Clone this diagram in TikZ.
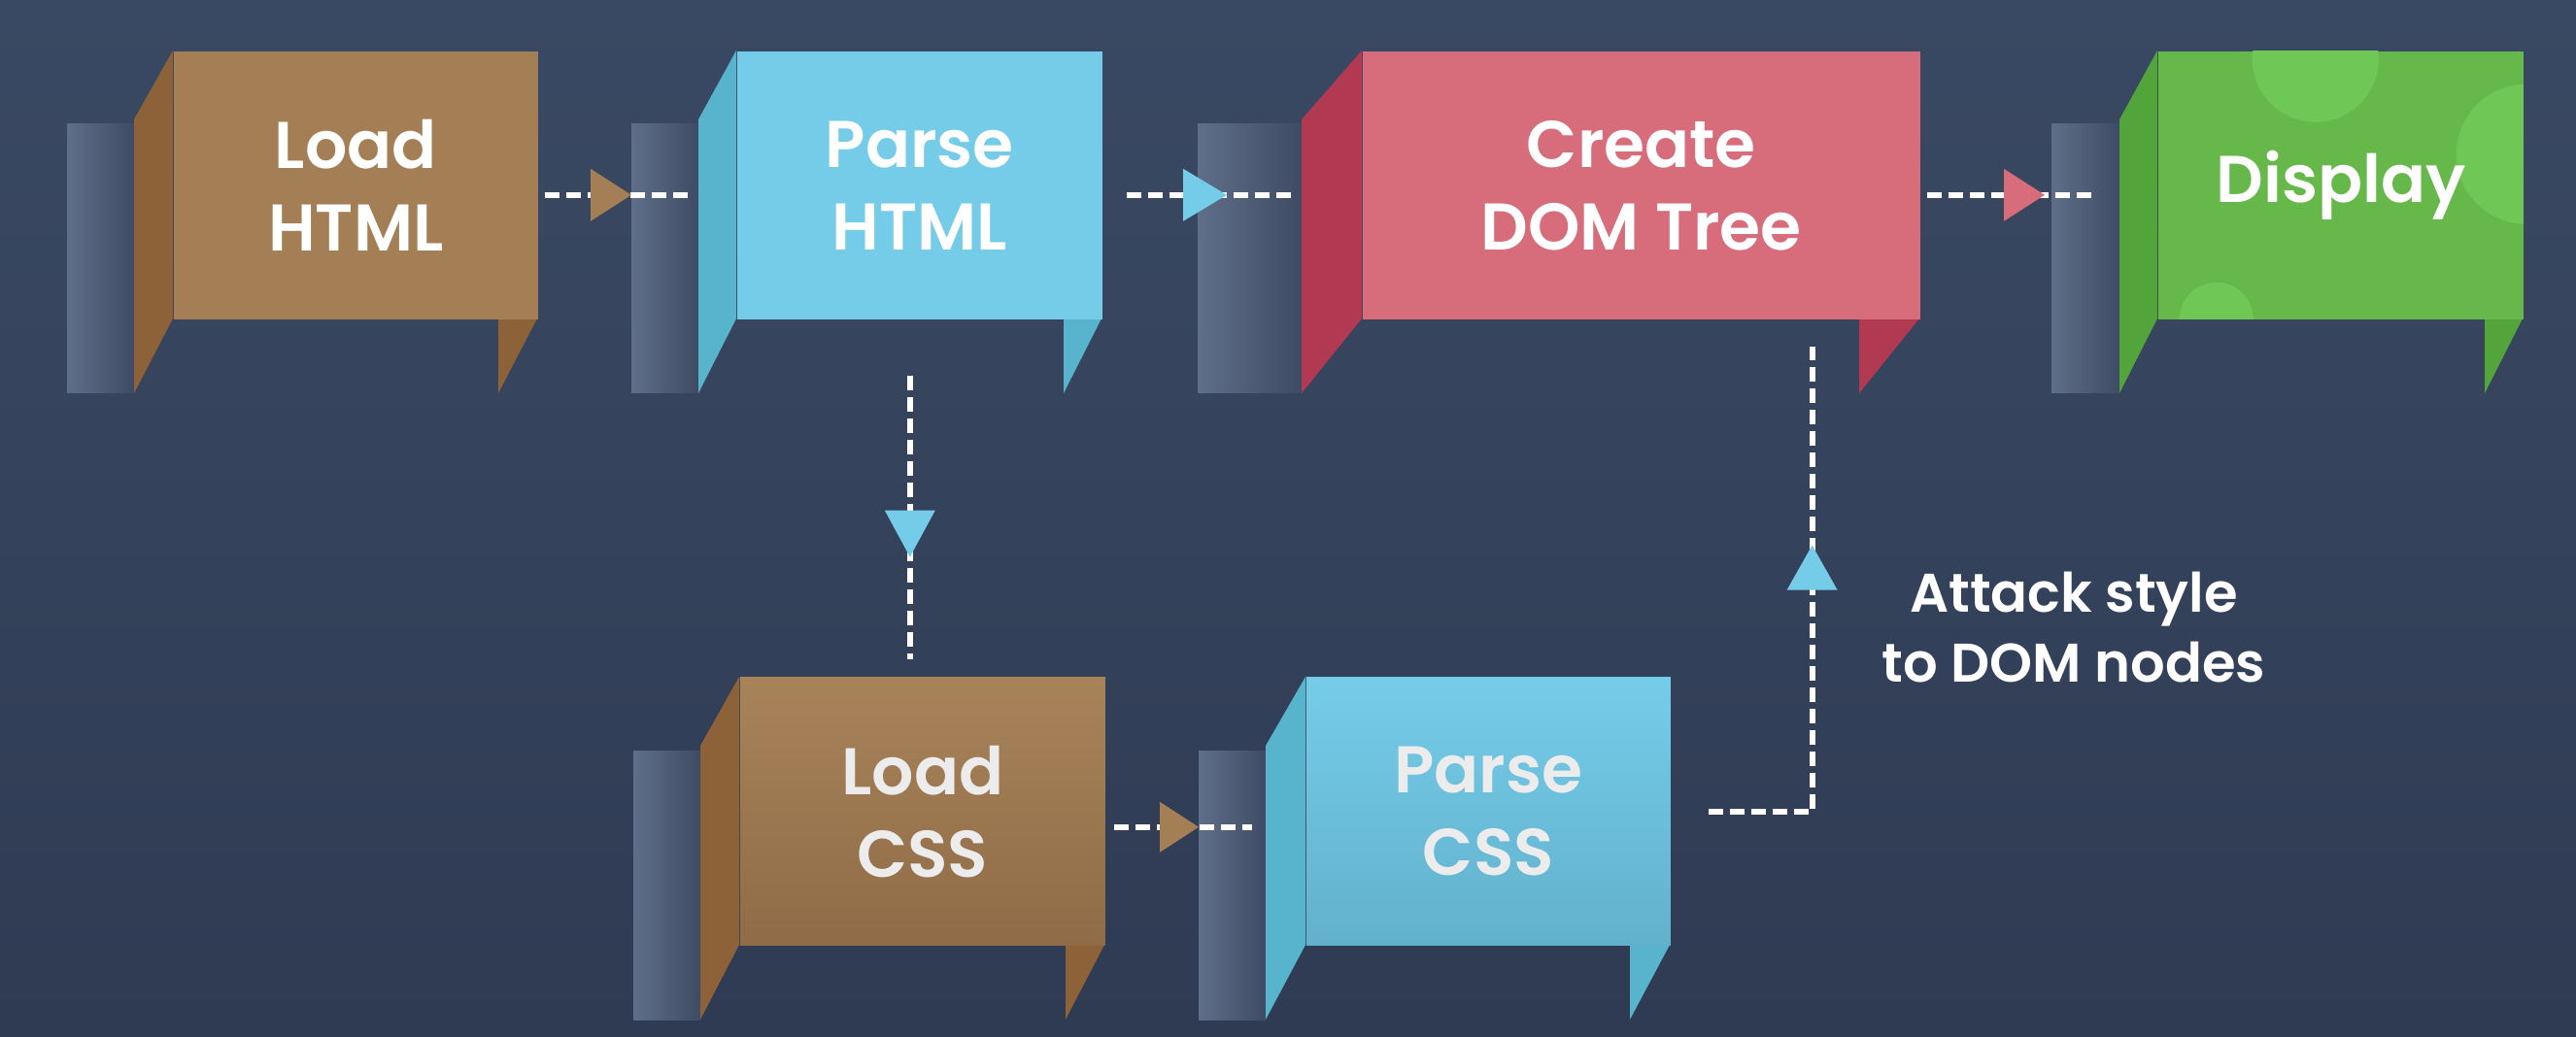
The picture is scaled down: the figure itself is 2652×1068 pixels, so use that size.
\documentclass[tikz,border=0pt]{standalone}
\usepackage{fontspec}
\setmainfont{Poppins}[BoldFont={Poppins SemiBold}]
\usetikzlibrary{calc}
\definecolor{bgTop}{HTML}{3A4963}
\definecolor{bgBot}{HTML}{2F3B53}
\definecolor{barL}{HTML}{5F6E89}
\definecolor{barR}{HTML}{3F4B64}
\definecolor{cBrown}{HTML}{A47F55}
\definecolor{cBrownTop}{HTML}{A8835A}
\definecolor{cBrownBot}{HTML}{8F6C47}
\definecolor{cBrownS}{HTML}{8D6239}
\definecolor{cBlue}{HTML}{75CCE8}
\definecolor{cBlueTop}{HTML}{75CCE9}
\definecolor{cBlueBot}{HTML}{62B1CC}
\definecolor{cBlueS}{HTML}{58B4CC}
\definecolor{cRed}{HTML}{D76C7A}
\definecolor{cRedS}{HTML}{B13A52}
\definecolor{cGreen}{HTML}{66B84B}
\definecolor{cGreenL}{HTML}{6FC755}
\definecolor{cGreenS}{HTML}{53A43A}
\definecolor{cText2}{HTML}{ECECEC}
\tikzset{
  front/.style={inner sep=0pt, minimum height=69pt, align=center, text=white,
    font=\bfseries\fontsize{17}{21.25}\selectfont},
  fBrown/.style={fill=cBrown},
  fBlue/.style={fill=cBlue},
  fRed/.style={fill=cRed},
  fBrownG/.style={top color=cBrownTop, bottom color=cBrownBot, text=cText2},
  fBlueG/.style={top color=cBlueTop, bottom color=cBlueBot, text=cText2},
  fGreen/.style={fill=cGreen, path picture={
      \fill[cGreenL] ($(path picture bounding box.north west)+(162,8)$) circle (65);
      \fill[cGreenL] ($(path picture bounding box.north west)+(379,106)$) circle (72);
      \fill[cGreenL] ($(path picture bounding box.north west)+(60,276)$) circle (38);}},
  barshade/.style={left color=barL, right color=barR},
  dl/.style={white, line width=1.5pt, dash pattern=on 3.75pt off 1.75pt},
  note/.style={inner sep=0pt, align=center, text=white,
    font=\bfseries\fontsize{14}{18}\selectfont}
}
% #1 name, #2 bar left, #3 bar right, #4 front left, #5 front right, #6 top, #7 front style, #8 side colour, #9 text
\newcommand\stage[9]{%
  \shade[barshade] (#2,#6+76) rectangle (#3,#6+353);
  \fill[#8] (#3,#6+71) -- (#4,#6) -- (#4,#6+276) -- (#3,#6+353) -- cycle;
  \fill[#8] (#5+#3-#4,#6+276) -- (#5,#6+276) -- (#5+#3-#4,#6+353) -- cycle;
  \node[front, #7, minimum width={(#5-#4)*0.25pt}, anchor=north west] (#1) at (#4,#6) {#9};
}
\begin{document}
\begin{tikzpicture}[x=0.25pt,y=-0.25pt]
\useasboundingbox (0,0) rectangle (2652,1068);
\shade[top color=bgTop, bottom color=bgBot] (0,0) rectangle (2652,1068);

\stage{lh}{69}{138}{178}{553}{52}{fBrown}{cBrownS}{Load\\HTML}
\stage{ph}{650}{719}{758}{1134}{52}{fBlue}{cBlueS}{Parse\\HTML}
\stage{dom}{1233}{1340}{1402}{1976}{52}{fRed}{cRedS}{Create\\DOM Tree}
\stage{disp}{2112}{2182}{2221}{2597}{52}{fGreen}{cGreenS}{Display}
\stage{lc}{652}{721}{761}{1137}{697}{fBrownG}{cBrownS}{Load\\CSS}
\stage{pc}{1234}{1303}{1344}{1719}{697}{fBlueG}{cBlueS}{Parse\\CSS}

\node[note] (lbl) at (2135,646) {Attack style\\to DOM nodes};

% Load HTML -> Parse HTML
\coordinate (a1s) at ($(lh.east)+(6,10)$);
\coordinate (a1e) at ($(ph.west)+(-50,10)$);
\coordinate (a1t) at ($(ph.west)+(-108,10)$);
\draw[dl] (a1s) -- (a1e);
\fill[cBrown] (a1t) -- ++(-42,-27) -- ++(0,54) -- cycle;

% Parse HTML -> Create DOM Tree
\coordinate (a2s) at ($(ph.east)+(24,10)$);
\coordinate (a2e) at ($(dom.west)+(-72,10)$);
\coordinate (a2t) at ($(dom.west)+(-139,10)$);
\draw[dl] (a2s) -- (a2e);
\fill[cBlue] (a2t) -- ++(-45,-27) -- ++(0,54) -- cycle;

% Create DOM Tree -> Display
\coordinate (a3s) at ($(dom.east)+(6,10)$);
\coordinate (a3e) at ($(disp.west)+(-67,10)$);
\coordinate (a3t) at ($(disp.west)+(-116,10)$);
\draw[dl] (a3s) -- (a3e);
\fill[cRed] (a3t) -- ++(-42,-27) -- ++(0,54) -- cycle;

% Parse HTML -> Load CSS
\coordinate (a4s) at ($(ph.south)+(-10,57)$);
\coordinate (a4e) at ($(lc.north)+(-13,-18)$);
\coordinate (a4t) at ($(ph.south)+(-10,244)$);
\draw[dl] (a4s) -- (a4e);
\fill[cBlue] (a4t) -- ++(-26,-48) -- ++(52,0) -- cycle;

% Load CSS -> Parse CSS
\coordinate (a5s) at ($(lc.east)+(8,16)$);
\coordinate (a5e) at ($(pc.west)+(-55,16)$);
\coordinate (a5t) at ($(pc.west)+(-110,16)$);
\draw[dl] (a5s) -- (a5e);
\fill[cBrown] (a5t) -- ++(-40,-26) -- ++(0,52) -- cycle;

% Parse CSS -> Create DOM Tree
\coordinate (a6s) at ($(pc.east)+(38,0)$);
\coordinate (a6c) at ($(dom.south east)+(-112,0)$);
\coordinate (a6e) at ($(dom.south east)+(-112,27)$);
\coordinate (a6t) at ($(dom.south east)+(-112,232)$);
\draw[dl] (a6s) -- (a6s -| a6c) -- (a6e);
\fill[cBlue] (a6t) -- ++(-26,46) -- ++(52,0) -- cycle;
\end{tikzpicture}
\end{document}
